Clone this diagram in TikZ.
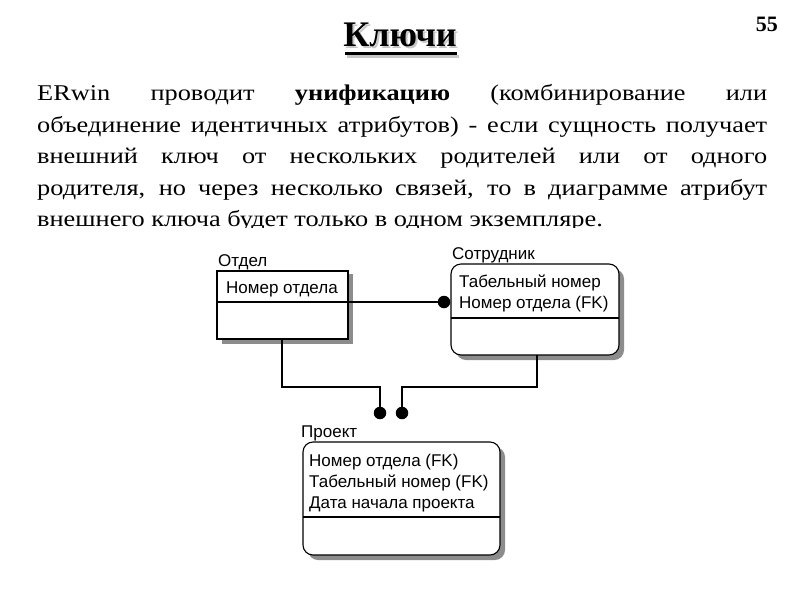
\documentclass[tikz,border=0pt]{standalone}
\usepackage{fontspec}
\setmainfont{Liberation Serif}
\newfontfamily\bodyfont[FakeStretch=1.17]{Liberation Serif}
\newfontfamily\erfont{Liberation Sans}
\begin{document}
\begin{tikzpicture}[x=1pt,y=-1pt,
  bodyline/.style={anchor=base west,inner sep=0pt,font=\bodyfont\fontsize{22.5}{27}\selectfont},
  ent/.style={draw=black,line width=1.1pt,fill=white},
  shadowbox/.style={fill=black!45,draw=none},
  erlabel/.style={anchor=base west,inner sep=0pt,font=\erfont\fontsize{17}{20}\selectfont},
  dot/.style={circle,fill=black,inner sep=0pt,minimum size=12.5pt},
  link/.style={line width=1.1pt}]
\useasboundingbox (0,0) rectangle (800,600);
% title
\fill[black!22] (347,54.5) rectangle (459,57.5);
\node[anchor=base,inner sep=0pt,font=\bfseries\fontsize{36}{40}\selectfont] (title) at (400,46.5)
  {\makebox[0pt][l]{\hspace{2pt}\raisebox{-2pt}{\color{black!22}Ключи}}Ключи};
\fill[black] (345,52.3) rectangle (457,55.3);
\node[anchor=base east,inner sep=0pt,font=\bfseries\fontsize{22}{24}\selectfont] (pnum) at (778,31.5) {55};
% body text
\node[bodyline] (l1) at (37,100.7) {\makebox[730pt][s]{ERwin проводит \textbf{унификацию} (комбинирование или}};
\node[bodyline] (l2) at (37,132.2) {\makebox[730pt][s]{объединение идентичных атрибутов) - если сущность получает}};
\node[bodyline] (l3) at (37,163.7) {\makebox[730pt][s]{внешний ключ от нескольких родителей или от одного}};
\node[bodyline] (l4) at (37,195.2) {\makebox[730pt][s]{родителя, но через несколько связей, то в диаграмме атрибут}};
\node[bodyline] (l5) at (37,226.7) {внешнего ключа будет только в одном экземпляре.};
\fill[white] (20,227.5) rectangle (780,245);
% Отдел
\fill[shadowbox] (222,274) rectangle (353,344);
\draw[ent] (217,271) rectangle (348,339);
\draw[link] (217,302) -- (348,302);
\coordinate (otR) at (348,302);
\coordinate (otB) at (282,339);
\node[erlabel] (otl) at (218,266) {Отдел};
\node[erlabel] (ot1) at (226,293) {Номер отдела};
% Сотрудник
\fill[shadowbox,rounded corners=10pt] (456,269) rectangle (624,360);
\draw[ent,rounded corners=10pt] (451,264) rectangle (619,355);
\draw[link] (451,318) -- (619,318);
\coordinate (soL) at (451,302);
\coordinate (soB) at (537,355);
\node[erlabel] (sol) at (452,259) {Сотрудник};
\node[erlabel] (so1) at (459,287) {Табельный номер};
\node[erlabel] (so2) at (459,308) {Номер отдела (FK)};
% Проект
\fill[shadowbox,rounded corners=10pt] (308,447) rectangle (505,560);
\draw[ent,rounded corners=10pt] (303,442) rectangle (500,555);
\draw[link] (303,517) -- (500,517);
\node[erlabel] (prl) at (301,437) {Проект};
\node[erlabel] (pr1) at (309,466) {Номер отдела (FK)};
\node[erlabel] (pr2) at (309,487) {Табельный номер (FK)};
\node[erlabel] (pr3) at (309,508) {Дата начала проекта};
% connectors
\node[dot] (d0) at (444,302) {};
\node[dot] (d1) at (380,413) {};
\node[dot] (d2) at (402,413) {};
\draw[link] (otR) -- (d0);
\draw[link] (otB) |- (331,387) -| (d1);
\draw[link] (soB) |- (470,387) -| (d2);
\end{tikzpicture}
\end{document}
